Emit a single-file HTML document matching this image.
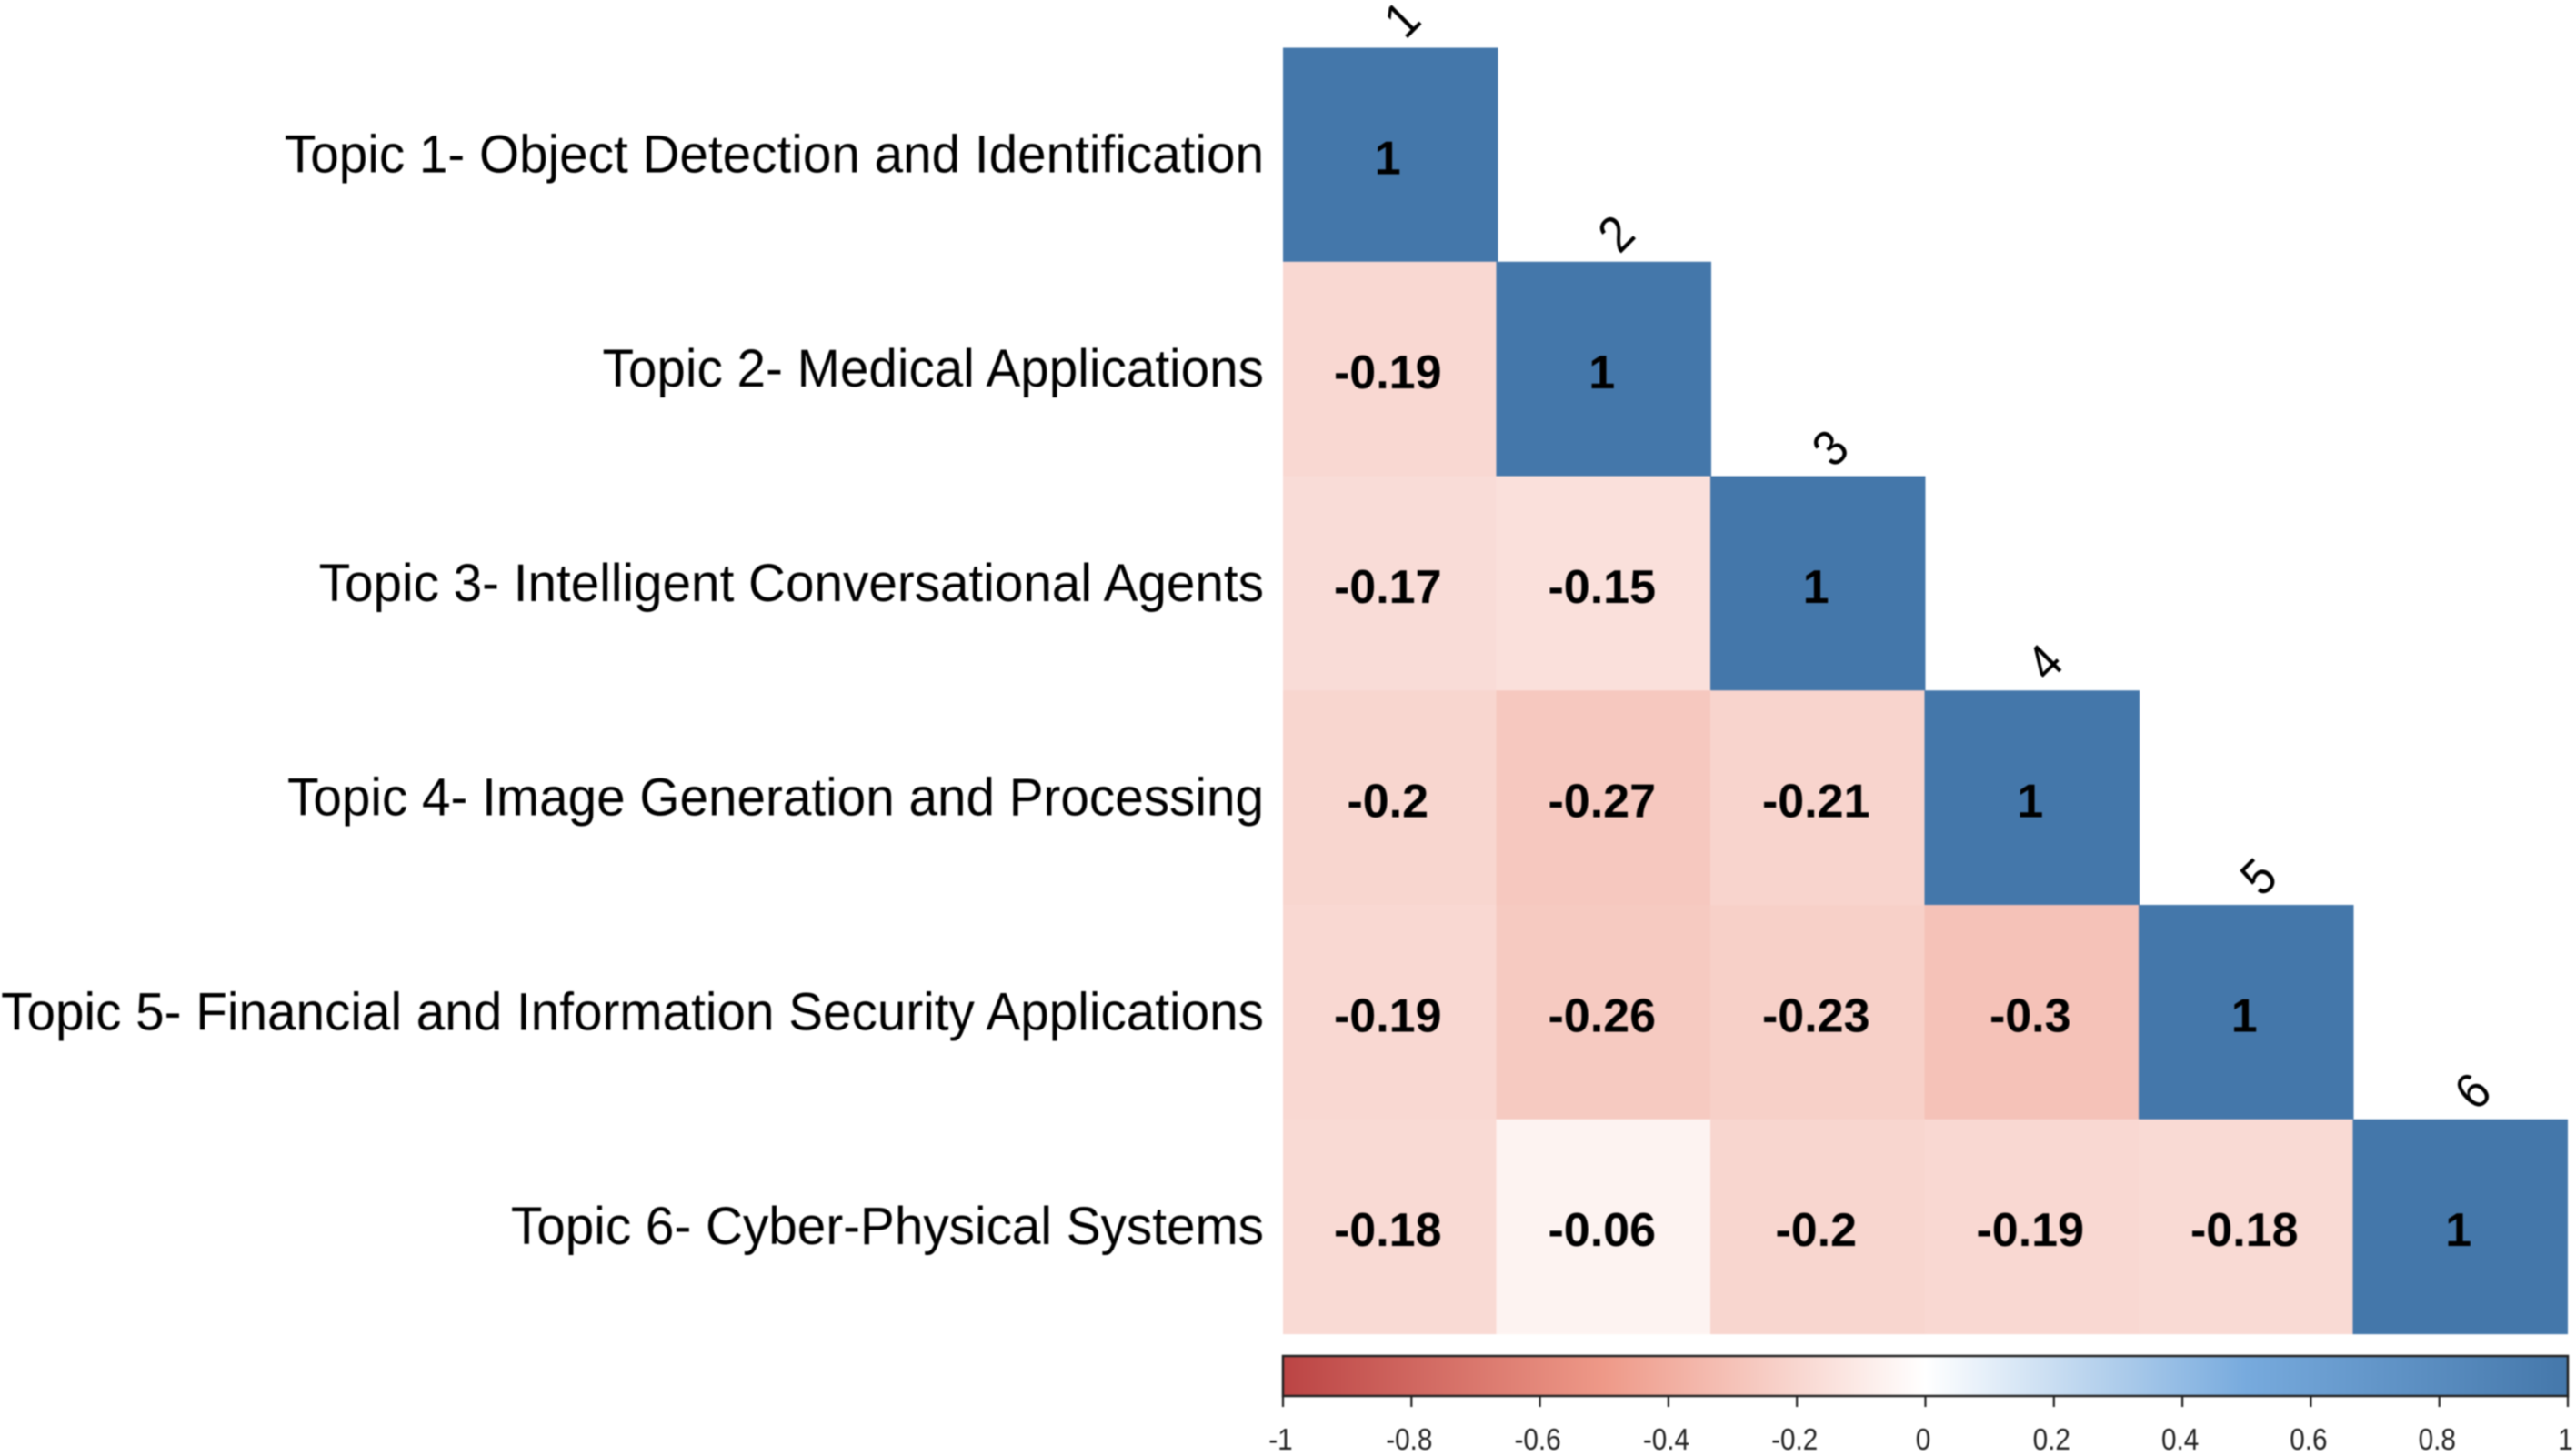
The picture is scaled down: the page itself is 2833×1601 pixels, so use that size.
<!DOCTYPE html>
<html lang="en">
<head>
<meta charset="utf-8">
<title>Topic correlation matrix</title>
<style>
  html, body { margin: 0; padding: 0; background: #ffffff; }
  body { width: 2833px; height: 1601px; overflow: hidden; }
  svg { display: block; font-family: "Liberation Sans", Arial, sans-serif; }
  #plot { filter: blur(0.7px); }
</style>
</head>
<body>
<svg id="chart" width="2833" height="1601" viewBox="0 0 2833 1601" xmlns="http://www.w3.org/2000/svg">
  <defs>
    <linearGradient id="legendGradient" x1="0" x2="1" y1="0" y2="0"></linearGradient>
  </defs>
  <g id="plot"></g>
</svg>
<script>
const topicLabels = [
  "Topic 1- Object Detection and Identification",
  "Topic 2- Medical Applications",
  "Topic 3- Intelligent Conversational Agents",
  "Topic 4- Image Generation and Processing",
  "Topic 5- Financial and Information Security Applications",
  "Topic 6- Cyber-Physical Systems"
];
const columnLabels = ["1", "2", "3", "4", "5", "6"];
const topic1Values = [1];
const topic2Values = [-0.19, 1];
const topic3Values = [-0.17, -0.15, 1];
const topic4Values = [-0.2, -0.27, -0.21, 1];
const topic5Values = [-0.19, -0.26, -0.23, -0.3, 1];
const topic6Values = [-0.18, -0.06, -0.2, -0.19, -0.18, 1];
const correlationRows = [topic1Values, topic2Values, topic3Values, topic4Values, topic5Values, topic6Values];
const legendTicks = [-1, -0.8, -0.6, -0.4, -0.2, 0, 0.2, 0.4, 0.6, 0.8, 1];
const paletteColors = ["#BB4444", "#EE9988", "#FFFFFF", "#77AADD", "#4477AA"];

const SVG_NS = "http://www.w3.org/2000/svg";
const plot = document.getElementById("plot");
const gridLeft = 1411, gridRight = 2824, gridTop = 52.5, gridBottom = 1467;
const count = columnLabels.length;
const cellW = (gridRight - gridLeft) / count;
const cellH = (gridBottom - gridTop) / count;
const colX = i => gridLeft + i * cellW;
const rowY = i => gridTop + i * cellH;
const legendX = v => gridLeft + (v + 1) / 2 * (gridRight - gridLeft);

function hexToRgb(h) {
  return [1, 3, 5].map(i => parseInt(h.substr(i, 2), 16));
}
function colorFor(v) {
  const t = (v + 1) / 2 * (paletteColors.length - 1);
  const a = Math.min(Math.floor(t), paletteColors.length - 2);
  const f = t - a;
  const c0 = hexToRgb(paletteColors[a]);
  const c1 = hexToRgb(paletteColors[a + 1]);
  const m = c0.map((c, k) => Math.round(c + (c1[k] - c) * f));
  return "rgb(" + m.join(",") + ")";
}
function make(tag, attrs, text) {
  const el = document.createElementNS(SVG_NS, tag);
  for (const k in attrs) el.setAttribute(k, attrs[k]);
  if (text !== undefined) el.textContent = text;
  plot.appendChild(el);
  return el;
}

/* row labels */
const labelScaleX = 0.977;
topicLabels.forEach((label, r) => {
  const cy = rowY(r) + cellH / 2;
  const t = make("text", {
    transform: "translate(1390," + (cy + 19) + ") scale(" + labelScaleX + ",1)",
    "text-anchor": "end", "font-size": 58, fill: "#000"
  }, label);
  
  
});

/* cells (upper triangle is empty) */
correlationRows.forEach((values, r) => {
  values.forEach((v, c) => {
    const rect = make("rect", {
      x: colX(c) - (c > 0 ? 1 : 0), y: rowY(r) - (r > 0 ? 0.5 : 0),
      width: cellW + 1, height: cellH + 0.6,
      fill: colorFor(v)
    });
    
    
  });
});
correlationRows.forEach((values, r) => {
  values.forEach((v, c) => {
    const val = make("text", {
      x: colX(c) + cellW / 2 - 2.5,
      y: rowY(r) + cellH / 2 + 21,
      "text-anchor": "middle", "font-size": 52, "font-weight": "bold", fill: "#000"
    }, String(v));
    
    
  });
});

/* rotated column labels */
columnLabels.forEach((label, c) => {
  const cx = colX(c) + cellW / 2 + 12.5;
  const cy = rowY(c) - 32;
  const t = make("text", {
    transform: "translate(" + cx + "," + cy + ") rotate(-45) scale(0.9,1)",
    y: 20, "text-anchor": "middle", "font-size": 56, fill: "#000"
  }, label);
  
  
});

/* colour legend */
const gradient = document.getElementById("legendGradient");
paletteColors.forEach((col, i) => {
  const stop = document.createElementNS(SVG_NS, "stop");
  stop.setAttribute("offset", i / (paletteColors.length - 1));
  stop.setAttribute("stop-color", col);
  gradient.appendChild(stop);
});
const legendTop = 1491, legendBottom = 1535;
const legendBar = make("rect", {
  x: legendX(-1), y: legendTop,
  width: legendX(1) - legendX(-1), height: legendBottom - legendTop,
  fill: "url(#legendGradient)", stroke: "#222", "stroke-width": 2.5
});


legendTicks.forEach(v => {
  const x = legendX(v);
  const tick = make("line", {
    x1: x, x2: x, y1: legendBottom, y2: 1547,
    stroke: "#222", "stroke-width": 2.2
  });
  
  
  const lab = make("text", {
    transform: "translate(" + (x - 2.5) + ",1594) scale(0.9,1)",
    "text-anchor": "middle", "font-size": 33, fill: "#222"
  }, String(v));
  
  
});
</script>
</body>
</html>
